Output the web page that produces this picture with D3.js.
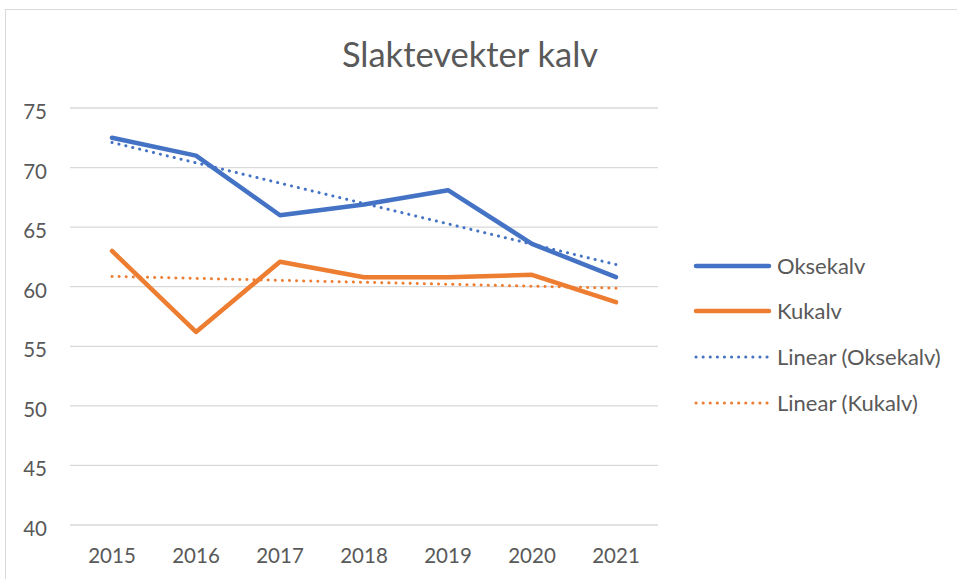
<!DOCTYPE html>
<html>
<head>
<meta charset="utf-8">
<script src="https://cdn.jsdelivr.net/npm/d3@7"></script>
<style>
  body { margin: 0; background: #fff; }
</style>
</head>
<body>
<script>
const years = ["2015", "2016", "2017", "2018", "2019", "2020", "2021"];
const oksekalv = [72.5, 71.0, 66.0, 66.9, 68.1, 63.6, 60.8];
const kukalv = [63.0, 56.2, 62.1, 60.8, 60.8, 61.0, 58.7];
const yTicks = [40, 45, 50, 55, 60, 65, 70, 75];

const blue = "#4472C4";
const orange = "#ED7D31";
const font = "Lato, 'Open Sans', sans-serif";

// least squares trend, like Excel's "Linear" trendline
function trend(vals) {
  const n = vals.length;
  const xm = (n - 1) / 2;
  const ym = d3.mean(vals);
  let sxy = 0, sxx = 0;
  vals.forEach((v, i) => { sxy += (i - xm) * (v - ym); sxx += (i - xm) * (i - xm); });
  const b = sxy / sxx;
  return vals.map((v, i) => ym + b * (i - xm));
}

const svg = d3.select("body").append("svg")
  .attr("width", 957)
  .attr("height", 579)
  .attr("font-family", font);

// chart border
svg.append("rect")
  .attr("x", 5.5).attr("y", 9.5)
  .attr("width", 960).attr("height", 600)
  .attr("fill", "#fff")
  .attr("stroke", "#d9d9d9");

const x = d3.scaleBand().domain(years).range([70, 658]);
const y = d3.scaleLinear().domain([40, 75]).range([525, 108]);

// gridlines
svg.append("g")
  .selectAll("line")
  .data(yTicks)
  .join("line")
  .attr("x1", 70).attr("x2", 658)
  .attr("y1", d => y(d)).attr("y2", d => y(d))
  .attr("stroke", "#d9d9d9")
  .attr("stroke-width", 1.3);

// y labels
svg.append("g")
  .selectAll("text")
  .data(yTicks)
  .join("text")
  .attr("x", 47)
  .attr("y", d => y(d) + 11)
  .attr("text-anchor", "end")
  .attr("font-size", 20.5)
  .attr("fill", "#595959")
  .text(d => d);

// x labels
svg.append("g")
  .selectAll("text")
  .data(years)
  .join("text")
  .attr("x", d => x(d) + x.bandwidth() / 2)
  .attr("y", 563)
  .attr("text-anchor", "middle")
  .attr("font-size", 20.5)
  .attr("fill", "#595959")
  .text(d => d);

const line = d3.line()
  .x((d, i) => x(years[i]) + x.bandwidth() / 2)
  .y(d => y(d));

const series = [
  { name: "Oksekalv", values: oksekalv, color: blue, dotted: false },
  { name: "Kukalv", values: kukalv, color: orange, dotted: false },
  { name: "Linear (Oksekalv)", values: trend(oksekalv), color: blue, dotted: true },
  { name: "Linear (Kukalv)", values: trend(kukalv), color: orange, dotted: true }
];

function styleLine(sel, s) {
  if (s.dotted) {
    sel.attr("stroke-width", 3)
      .attr("stroke-dasharray", "0.1 7")
      .attr("stroke-linecap", "round");
  } else {
    sel.attr("stroke-width", 4.5)
      .attr("stroke-linecap", "round")
      .attr("stroke-linejoin", "round");
  }
  return sel;
}

series.forEach(s => {
  svg.append("path")
    .datum(s.values)
    .attr("fill", "none")
    .attr("stroke", s.color)
    .attr("d", line)
    .call(styleLine, s);
});

// title
svg.append("text")
  .attr("x", 470)
  .attr("y", 67)
  .attr("text-anchor", "middle")
  .attr("font-size", 34.5)
  .attr("fill", "#595959")
  .text("Slaktevekter kalv");

// legend
const legendY = [266, 311, 357, 403];
const legend = svg.append("g")
  .selectAll("g")
  .data(series)
  .join("g")
  .attr("transform", (d, i) => `translate(0,${legendY[i]})`);

legend.each(function (s) {
  d3.select(this).append("line")
    .attr("x1", 696).attr("x2", 769)
    .attr("y1", 0).attr("y2", 0)
    .attr("stroke", s.color)
    .call(styleLine, s);
});

legend.append("text")
  .attr("x", 777)
  .attr("dy", "0.36em")
  .attr("font-size", 22)
  .attr("fill", "#595959")
  .text(d => d.name);
</script>
</body>
</html>
